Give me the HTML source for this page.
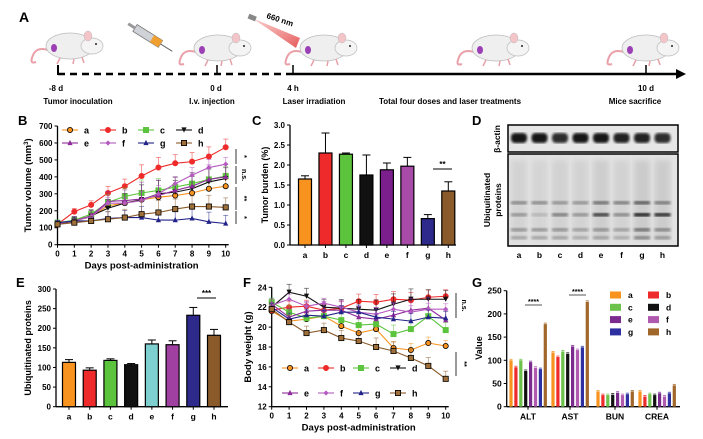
<!DOCTYPE html>
<html><head><meta charset="utf-8">
<style>
html,body{margin:0;padding:0;background:#fff;}
svg{display:block;font-family:"Liberation Sans",Arial,sans-serif;}
text{font-weight:bold;}
</style></head>
<body>
<svg id="fig" width="703" height="439" viewBox="0 0 703 439" xmlns="http://www.w3.org/2000/svg">
<defs>
<linearGradient id="beam" x1="0" y1="0" x2="1" y2="1"><stop offset="0" stop-color="#f08080" stop-opacity="0.4"/><stop offset="1" stop-color="#e03030" stop-opacity="0.8"/></linearGradient>
<filter id="blur1"><feGaussianBlur stdDeviation="1.2"/></filter>
<filter id="blur2"><feGaussianBlur stdDeviation="3"/></filter>
</defs>
<!-- Panel A -->
<g>
<text x="19" y="22" font-size="14">A</text>
<g id="mice"></g>
<g transform="translate(135,28) rotate(32)">
<rect x="0" y="-4" width="30" height="8" fill="#cfd3d8" stroke="#777" stroke-width="0.8"/>
<rect x="20" y="-4" width="10" height="8" fill="#f0a030"/>
<line x1="30" y1="0" x2="44" y2="0" stroke="#666" stroke-width="1"/>
<rect x="-8" y="-1.5" width="8" height="3" fill="#999"/>
</g>
<g>
<polygon points="252,18 300,38 296,48" fill="url(#beam)"/>
<rect x="248" y="15" width="8" height="5" fill="#888" transform="rotate(22 252 18)"/>
<text x="266" y="18" font-size="8" transform="rotate(18 266 18)">660 nm</text>
</g>
<g>
<line x1="58" y1="65" x2="58" y2="75" stroke="#000" stroke-width="2"/>
<line x1="217" y1="65" x2="217" y2="75" stroke="#000" stroke-width="1.5"/>
<line x1="293" y1="65" x2="293" y2="75" stroke="#000" stroke-width="1.5"/>
<line x1="646" y1="65" x2="646" y2="75" stroke="#000" stroke-width="1.5"/>
<line x1="58" y1="74" x2="293" y2="74" stroke="#000" stroke-width="2.4" stroke-dasharray="7,5"/>
<line x1="293" y1="74" x2="678" y2="74" stroke="#000" stroke-width="2.4"/>
<polygon points="686,74 676,69 676,79" fill="#000"/>
</g>
<g font-size="8" text-anchor="middle">
<text x="56" y="91">-8 d</text><text x="78" y="104">Tumor inoculation</text>
<text x="216" y="91">0 d</text><text x="212" y="104">I.v. injection</text>
<text x="293" y="91">4 h</text><text x="314" y="104">Laser irradiation</text>
<text x="450" y="104">Total four doses and laser treatments</text>
<text x="646" y="91">10 d</text><text x="635" y="104">Mice sacrifice</text>
</g>
</g>
<text x="18" y="125" font-size="13">B</text>
<text x="252" y="125" font-size="13">C</text>
<text x="472" y="125" font-size="13">D</text>
<text x="16" y="287" font-size="13">E</text>
<text x="243" y="287" font-size="13">F</text>
<text x="472" y="287" font-size="13">G</text>
<g id="pB"></g>
<g id="pC"></g>
<g id="pD"></g>
<g id="pE"></g>
<g id="pF"></g>
<g id="pG"></g>
</svg>
<script>
const groups = ['a','b','c','d','e','f','g','h'];
const lineColors = ['#f7931e','#ee2a2a','#5cc43c','#111111','#8e2c9a','#b55bc0','#23238a','#8b5a2b'];
const markers = ['circle','circle','square','tri-down','tri','diamond','tri','square'];
const days = [0,1,2,3,4,5,6,7,8,9,10];
// Panel B: tumor volume
const volA = [120,140,165,230,245,265,280,290,305,330,345];
const volB = [120,195,235,305,345,405,455,480,490,520,575];
const volC = [130,145,180,250,285,305,320,340,360,385,405];
const volD = [120,140,170,215,245,265,300,310,330,370,390];
const volE = [125,140,170,255,260,270,290,320,345,385,400];
const volF = [125,140,165,245,245,260,300,360,410,455,475];
const volG = [130,140,140,155,160,160,145,145,155,135,125];
const volH = [120,130,140,150,160,180,190,210,225,225,220];
const volErr = [20,30,40,65,70,110,100,85,90,95,80];
const volTicks = [0,100,200,300,400,500,600,700];
// Panel C
const burden = [1.65,2.3,2.27,1.75,1.88,1.97,0.66,1.35];
const burdenErr = [0.08,0.5,0.03,0.5,0.17,0.22,0.1,0.23];
const burdenTicks = [0,0.5,1.0,1.5,2.0,2.5,3.0];
const barColors = ['#f7931e','#ee2a2a','#5cc43c','#111111','#7a1f8c','#a84aa8','#2e2a8c','#8b5a2b'];
// Panel E
const ubi = [113,93,118,107,160,158,233,182];
const ubiErr = [7,6,4,3,10,10,20,15];
const ubiTicks = [0,50,100,150,200,250,300];
const ubiColors = ['#f7931e','#ee2a2a','#5cc43c','#111111','#7ecfcf','#a040a0','#2e2a8c','#8b5a2b'];
// Panel F: body weight
const bwA = [21.6,20.6,20.8,21.1,20.1,19.4,19.8,17.9,17.7,18.4,18.1];
const bwB = [21.7,22.0,22.1,21.7,21.9,22.6,22.5,22.8,22.7,23.0,23.1];
const bwC = [22.5,21.5,20.9,21.1,20.7,20.2,20.3,19.3,19.8,21.1,19.7];
const bwD = [22.0,23.5,23.1,22.0,21.9,21.8,21.7,22.3,22.8,22.8,22.8];
const bwE = [22.3,21.0,21.6,21.7,21.7,21.0,20.8,21.2,21.7,21.9,20.7];
const bwF = [22.2,22.8,22.1,22.4,22.0,21.5,21.3,21.8,21.5,21.8,21.8];
const bwG = [22.0,20.8,21.2,21.1,21.5,21.5,21.0,20.8,20.6,21.0,20.9];
const bwH = [21.8,20.5,19.4,19.7,18.9,18.6,18.0,17.6,16.9,16.1,14.8];
const bwErr = [0.6,1.0,1.0,1.0,1.1,1.2,1.3,1.3,1.3,1.2,1.1];
const bwTicks = [12,14,16,18,20,22,24];
// Panel G
const gCats = ['ALT','AST','BUN','CREA'];
const gALT = [100,85,100,77,96,84,81,178];
const gAST = [117,107,119,114,130,122,128,226];
const gBUN = [33,25,25,26,30,25,27,33];
const gCREA = [33,22,27,25,29,22,29,46];
const gTicks = [0,50,100,150,200,250];
const gColors = ['#f7931e','#ee2a2a','#6cc24a','#111111','#7b2a8e','#b05ab0','#2e2fa0','#a0662a'];
// Panel D lane intensities (blot)
const actinInt = [0.9,0.9,0.8,0.9,0.9,0.85,0.85,0.8];
const bandUpper = [0.35,0.35,0.3,0.3,0.45,0.4,0.55,0.4];
const bandMid = [0.3,0.15,0.4,0.3,0.7,0.35,0.85,0.8];
const bandLow = [0.3,0.3,0.3,0.25,0.3,0.25,0.45,0.35];

const NS='http://www.w3.org/2000/svg';
function mk(parent,tag,attrs,txt){const e=document.createElementNS(NS,tag);for(const k in attrs)e.setAttribute(k,attrs[k]);if(txt!==undefined)e.textContent=txt;parent.appendChild(e);return e;}
function lin(d0,d1,r0,r1){return v=>r0+(v-d0)*(r1-r0)/(d1-d0);}

// mice
(function(){
  const g=document.getElementById('mice');
  const pos=[[30,28],[178,30],[284,30],[456,30],[606,30]];
  pos.forEach((p,i)=>{
    const m=mk(g,'g',{transform:`translate(${p[0]},${p[1]})`});
    
    
    mk(m,'path',{d:'M18 22 Q5 18 2 30 Q0 36 6 34',fill:'none',stroke:'#e9a0a8','stroke-width':2});
    mk(m,'ellipse',{cx:40,cy:18,rx:24,ry:13,fill:'#efefef',stroke:'#bbb','stroke-width':0.7});
    mk(m,'ellipse',{cx:62,cy:18,rx:11,ry:8,fill:'#f4f4f4',stroke:'#bbb','stroke-width':0.7});
    mk(m,'ellipse',{cx:58,cy:8,rx:4,ry:5,fill:'#f3c4c8',stroke:'#bbb','stroke-width':0.5});
    mk(m,'circle',{cx:66,cy:16,r:1,fill:'#222'});
    mk(m,'ellipse',{cx:24,cy:20,rx:3,ry:4,fill:'#9b3fb5'});
    mk(m,'path',{d:'M30 30 l-3 6 M52 29 l2 6 M44 31 l-1 5',stroke:'#e6a0a8','stroke-width':1.5});
  });
})();

function drawLineChart(gid,o){
  const g=document.getElementById(gid);
  const X=lin(0,10,o.x0,o.x1), Y=lin(o.ymin,o.ymax,o.y0,o.y1);
  mk(g,'line',{x1:o.x0,y1:o.y0,x2:o.x0,y2:o.y1,stroke:'#000','stroke-width':1.3});
  mk(g,'line',{x1:o.x0,y1:o.y0,x2:o.x1+3,y2:o.y0,stroke:'#000','stroke-width':1.3});
  o.ticks.forEach(t=>{mk(g,'line',{x1:o.x0-3,y1:Y(t),x2:o.x0,y2:Y(t),stroke:'#000'});
    const tl=mk(g,'text',{x:o.x0-5,y:Y(t)+3,'font-size':8,'text-anchor':'end'},t);
    });
  days.forEach(d=>{mk(g,'line',{x1:X(d),y1:o.y0,x2:X(d),y2:o.y0+3,stroke:'#000'});
    const tl=mk(g,'text',{x:X(d),y:o.y0+12,'font-size':8,'text-anchor':'middle'},d);
    });
  const xt=mk(g,'text',{x:(o.x0+o.x1)/2,y:o.y0+24,'font-size':9.5,'text-anchor':'middle'},'Days post-administration');
  
  const yt=mk(g,'text',{x:o.ytx,y:(o.y0+o.y1)/2,'font-size':9.5,'text-anchor':'middle',transform:`rotate(-90 ${o.ytx} ${(o.y0+o.y1)/2})`});
  yt.innerHTML=o.ytitle;
  
  o.series.forEach((s,i)=>{
    const c=lineColors[i];
    const sg=mk(g,'g',{});
    
    
    s.forEach((v,j)=>{const e=o.err[j]*(0.5+0.1*i%0.5);mk(sg,'line',{x1:X(j),y1:Y(v),x2:X(j),y2:Y(v+e),stroke:c,'stroke-width':0.8,opacity:0.6});
      mk(sg,'line',{x1:X(j)-2.5,y1:Y(v+e),x2:X(j)+2.5,y2:Y(v+e),stroke:c,'stroke-width':0.8,opacity:0.6});});
    mk(sg,'polyline',{points:s.map((v,j)=>X(j)+','+Y(v)).join(' '),fill:'none',stroke:c,'stroke-width':1.1});
    s.forEach((v,j)=>marker(sg,markers[i],X(j),Y(v),c,i));
  });
  // legend
  o.legendPos.forEach((p,i)=>{
    const lg=mk(g,'g',{});
    
    
    mk(lg,'line',{x1:p[0],y1:p[1],x2:p[0]+16,y2:p[1],stroke:lineColors[i],'stroke-width':1.1});
    marker(lg,markers[i],p[0]+8,p[1],lineColors[i],i);
    mk(lg,'text',{x:p[0]+22,y:p[1]+3.5,'font-size':9},groups[i]);
  });
  o.sig.forEach(s=>{mk(g,'line',{x1:s[0],y1:s[1],x2:s[0],y2:s[2],stroke:'#000','stroke-width':0.8});
    mk(g,'text',{x:s[0]+6,y:(s[1]+s[2])/2,'font-size':7,'font-weight':'normal',transform:`rotate(90 ${s[0]+6} ${(s[1]+s[2])/2})`,'text-anchor':'middle'},s[3]);});
}
function marker(g,type,x,y,c,i){
  const r=2.6; const fill=(i===0)?'#f7931e':(i===7?'#a0703a':c); const st=(i===0||i===7)?'#000':c;
  if(type==='circle')mk(g,'circle',{cx:x,cy:y,r:r,fill:fill,stroke:st,'stroke-width':0.8});
  else if(type==='square')mk(g,'rect',{x:x-r,y:y-r,width:2*r,height:2*r,fill:fill,stroke:st,'stroke-width':0.8});
  else if(type==='tri')mk(g,'polygon',{points:`${x},${y-r-0.5} ${x-r},${y+r-0.5} ${x+r},${y+r-0.5}`,fill:c});
  else if(type==='tri-down')mk(g,'polygon',{points:`${x},${y+r} ${x-r},${y-r} ${x+r},${y-r}`,fill:c});
  else mk(g,'polygon',{points:`${x},${y-r} ${x-r},${y} ${x},${y+r} ${x+r},${y}`,fill:c});
}

drawLineChart('pB',{x0:57.5,x1:225.7,y0:244.7,y1:126,ymin:0,ymax:700,ticks:volTicks,
  series:[volA,volB,volC,volD,volE,volF,volG,volH],err:volErr,ytx:31,
  ytitle:'Tumor volume (mm<tspan baseline-shift="super" font-size="6">3</tspan>)',
  legendPos:[[62,130],[100,130],[138,130],[176,130],[62,143],[100,143],[138,143],[176,143]],
  sig:[[236,149,164,'*'],[236,166,184,'n.s.'],[236,187,210,'**'],[236,211,224,'*']]});

drawLineChart('pF',{x0:271.7,x1:445.7,y0:406.7,y1:287.3,ymin:12,ymax:24,ticks:bwTicks,
  series:[bwA,bwB,bwC,bwD,bwE,bwF,bwG,bwH],err:bwErr,ytx:251,ytitle:'Body weight (g)',
  legendPos:[[282,368],[318,368],[353,368],[390,368],[282,393],[318,393],[353,393],[390,393]],
  sig:[[456,293,318,'n.s.'],[456,352,376,'**']]});

function drawBars(gid,o){
  const g=document.getElementById(gid);
  const Y=lin(o.ymin,o.ymax,o.y0,o.y1);
  const X=i=>o.c0+i*(o.c1-o.c0)/7;
  mk(g,'line',{x1:o.x0,y1:o.y0,x2:o.x0,y2:o.y1,stroke:'#000','stroke-width':1.3});
  mk(g,'line',{x1:o.x0,y1:o.y0,x2:o.xe,y2:o.y0,stroke:'#000','stroke-width':1.3});
  o.ticks.forEach(t=>{mk(g,'line',{x1:o.x0-3,y1:Y(t),x2:o.x0,y2:Y(t),stroke:'#000'});
    const tl=mk(g,'text',{x:o.x0-5,y:Y(t)+3,'font-size':8,'text-anchor':'end'},o.fmt(t));
    });
  o.vals.forEach((v,i)=>{
    const bg=mk(g,'g',{});
    
    
    const top=Y(v+o.err[i]);
    mk(bg,'line',{x1:X(i),y1:Y(v),x2:X(i),y2:top,stroke:'#000','stroke-width':1});
    mk(bg,'line',{x1:X(i)-4,y1:top,x2:X(i)+4,y2:top,stroke:'#000','stroke-width':1});
    mk(bg,'rect',{x:X(i)-o.bw/2,y:Y(v),width:o.bw,height:o.y0-Y(v),fill:o.colors[i],stroke:'#000','stroke-width':1.2});
    mk(g,'line',{x1:X(i),y1:o.y0,x2:X(i),y2:o.y0+3,stroke:'#000'});
    const tl=mk(g,'text',{x:X(i),y:o.y0+13,'font-size':8.5,'text-anchor':'middle'},groups[i]);
    
  });
  const yt=mk(g,'text',{x:o.ytx,y:(o.y0+o.y1)/2,'font-size':9,'text-anchor':'middle',transform:`rotate(-90 ${o.ytx} ${(o.y0+o.y1)/2})`},o.ytitle);
  
  const s=o.sig; mk(g,'line',{x1:s[0],y1:s[2],x2:s[1],y2:s[2],stroke:'#000','stroke-width':1});
  mk(g,'text',{x:(s[0]+s[1])/2,y:s[2]-2,'font-size':8,'text-anchor':'middle','font-weight':'normal'},s[3]);
}
drawBars('pC',{x0:290,xe:456,y0:245,y1:125,ymin:0,ymax:3,ticks:burdenTicks,fmt:t=>t.toFixed(1),
  vals:burden,err:burdenErr,colors:barColors,c0:305,c1:448.3,bw:13,ytx:268,ytitle:'Tumor burden (%)',sig:[433,452,169,'**']});
drawBars('pE',{x0:56,xe:228,y0:406.7,y1:289,ymin:0,ymax:300,ticks:ubiTicks,fmt:t=>t,
  vals:ubi,err:ubiErr,colors:ubiColors,c0:69,c1:214,bw:13,ytx:31,ytitle:'Ubiquitinated proteins',sig:[197,216,298,'***']});

// Panel G
(function(){
  const g=document.getElementById('pG');
  const x0=506.7,y0=406.7,y1=290.7; const Y=lin(0,250,y0,y1);
  const centers=[528,570,615,657];
  mk(g,'line',{x1:x0,y1:y0,x2:x0,y2:y1,stroke:'#000','stroke-width':1.3});
  mk(g,'line',{x1:x0,y1:y0,x2:680,y2:y0,stroke:'#000','stroke-width':1.3});
  gTicks.forEach(t=>{mk(g,'line',{x1:x0-3,y1:Y(t),x2:x0,y2:Y(t),stroke:'#000'});
    const tl=mk(g,'text',{x:x0-5,y:Y(t)+3,'font-size':8.5,'text-anchor':'end'},t);
    });
  [gALT,gAST,gBUN,gCREA].forEach((arr,k)=>{
    arr.forEach((v,i)=>{
      const x=centers[k]-17+i*4.9;
      const r=mk(g,'rect',{x:x-1.6,y:Y(v),width:3.2,height:y0-Y(v),fill:gColors[i]});
      
      
      mk(g,'line',{x1:x-1.5,y1:Y(v)-1,x2:x+1.5,y2:Y(v)-1,stroke:gColors[i],'stroke-width':0.8});
    });
    mk(g,'line',{x1:centers[k],y1:y0,x2:centers[k],y2:y0+3,stroke:'#000'});
    const tl=mk(g,'text',{x:centers[k],y:y0+13,'font-size':8.5,'text-anchor':'middle'},gCats[k]);
    
  });
  const yt=mk(g,'text',{x:482,y:348,'font-size':9,'text-anchor':'middle',transform:'rotate(-90 482 348)'},'Value');
  
  [[525,542,305],[569,586,295]].forEach(s=>{mk(g,'line',{x1:s[0],y1:s[2],x2:s[1],y2:s[2],stroke:'#555'});
    mk(g,'text',{x:(s[0]+s[1])/2,y:s[2]-1,'font-size':7,'text-anchor':'middle'},'****');});
  groups.forEach((n,i)=>{
    const lx=610+(i%2)*38, ly=295+Math.floor(i/2)*12.3;
    const lg=mk(g,'g',{});
    
    
    mk(lg,'rect',{x:lx,y:ly-3.5,width:11,height:7,fill:gColors[i]});
    mk(lg,'text',{x:lx+18,y:ly+3,'font-size':8.5},n);
  });
})();

// Panel D blot
(function(){
  const g=document.getElementById('pD');
  mk(g,'rect',{x:508,y:125,width:170,height:27,fill:'#e6e6e6',stroke:'#000','stroke-width':1.5});
  mk(g,'rect',{x:508,y:154,width:170,height:92,fill:'#e2e2e2',stroke:'#000','stroke-width':1.5});
  const lx=i=>519+i*20.5;
  actinInt.forEach((v,i)=>{
    const b=mk(g,'rect',{x:lx(i)-8,y:133,width:16,height:10,rx:4,fill:'#000',opacity:v,filter:'url(#blur1)'});
    
    
    mk(g,'rect',{x:lx(i)-8,y:160,width:16,height:80,fill:'#888',opacity:0.12+bandMid[i]*0.15,filter:'url(#blur2)'});
    [[201,bandUpper[i]],[213,bandMid[i]],[228,bandLow[i]],[236,bandLow[i]*0.8]].forEach(q=>{
      mk(g,'rect',{x:lx(i)-8,y:q[0],width:16,height:3.5,fill:'#000',opacity:q[1],filter:'url(#blur1)'});});
    const tl=mk(g,'text',{x:lx(i),y:258,'font-size':8.5,'text-anchor':'middle'},groups[i]);
    
  });
  const t1=mk(g,'text',{x:0,y:0,'font-size':8.5,'text-anchor':'middle',transform:'translate(500,139) rotate(-90)'},'β-actin');
  
  const t2=mk(g,'text',{x:0,y:0,'font-size':8.5,'text-anchor':'middle',transform:'translate(490,200) rotate(-90)'},'Ubiquitinated');
  
  const t3=mk(g,'text',{x:0,y:0,'font-size':8.5,'text-anchor':'middle',transform:'translate(501,200) rotate(-90)'},'proteins');
  
})();
</script>
</body></html>
